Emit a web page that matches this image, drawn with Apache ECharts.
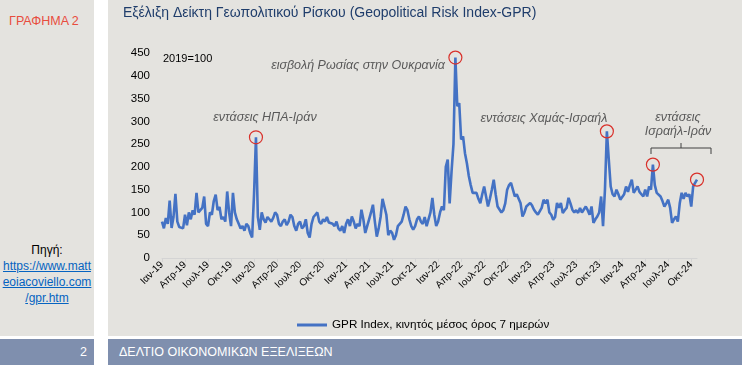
<!DOCTYPE html>
<html>
<head>
<meta charset="utf-8">
<script src="https://cdn.jsdelivr.net/npm/echarts@6/dist/echarts.min.js"></script>
<style>
  html, body { margin:0; padding:0; background:#ffffff; width:742px; height:365px; overflow:hidden; font-family:"Liberation Sans", Arial, sans-serif; }
  .panel { position:absolute; background:#e4e3df; }
  .bar { position:absolute; background:#7f8fae; color:#ffffff; font-size:12.5px; line-height:27px; }
  #chart { position:absolute; left:0; top:0; width:742px; height:365px; }
  .src { position:absolute; left:0; width:94px; text-align:center; font-size:12px; line-height:16px; }
  .src a { color:#0563c1; text-decoration:underline; }
</style>
</head>
<body>
<div class="panel" style="left:0;top:0;width:94px;height:336px;"></div>
<div class="panel" style="left:108px;top:0;width:634px;height:336px;"></div>
<div class="bar" style="left:0;top:339px;width:94px;height:26px;text-align:right;"><span style="padding-right:7px;">2</span></div>
<div class="bar" style="left:108px;top:339px;width:634px;height:26px;"><span style="padding-left:11px;">ΔΕΛΤΙΟ ΟΙΚΟΝΟΜΙΚΩΝ ΕΞΕΛΙΞΕΩΝ</span></div>
<div style="position:absolute;left:9px;top:14px;color:#e84c3d;font-size:12.5px;">ΓΡΑΦΗΜΑ 2</div>
<div class="src" style="top:242px;color:#000;">Πηγή:</div>
<div class="src" style="top:258px;"><a>https://www.matt</a></div>
<div class="src" style="top:274px;"><a>eoiacoviello.com</a></div>
<div class="src" style="top:290px;"><a>/gpr.htm</a></div>
<div id="chart"></div>
<script>
// Month names for tick labels
const monthNames = ['Ιαν','Φεβ','Μαρ','Απρ','Μαϊ','Ιουν','Ιουλ','Αυγ','Σεπ','Οκτ','Νοε','Δεκ'];
const years = ['19','20','21','22','23','24'];
// GPR index, 7-day moving average, ~weekly readings (4 per month)
const gpr2019 = [80,65,88,75, 126,66,90,141, 80,68,72,65, 95,72,100,85, 105,95,143,100, 100,110,135,75,
                 70,100,95,125, 139,105,112,85, 90,80,146,100, 70,143,100,85, 75,65,70,60, 75,70,55,45];
const gpr2020 = [140,265,90,62, 100,85,78,90, 85,80,88,100, 95,75,70,80, 85,72,80,95, 90,70,60,75,
                 80,65,70,85, 55,45,75,90, 95,100,80,75, 85,80,90,78, 82,75,70,80, 65,60,70,55];
const gpr2021 = [75,85,70,91, 80,65,75,70, 106,85,55,70, 85,100,117,80, 47,65,90,130, 132,95,50,60,
                 55,40,50,70, 75,80,95,113, 105,85,70,62, 70,85,91,80, 75,90,70,70, 100,132,95,70];
const gpr2022 = [80,100,113,105, 200,216,120,190, 250,440,333,340, 260,267,230,208, 180,160,143,145, 143,130,120,140,
                 157,135,113,130, 150,172,140,113, 117,100,105,120, 150,160,165,150, 135,140,143,120, 91,100,113,110];
const gpr2023 = [121,115,106,100, 95,91,110,128, 120,128,100,95, 84,90,121,110, 121,99,105,110, 132,120,106,100,
                 105,99,110,100, 99,113,105,95, 113,77,85,91, 100,135,70,150, 278,216,157,140, 135,150,140,128];
const gpr2024 = [128,140,157,145, 160,172,143,150, 157,145,140,135, 150,135,157,150, 205,160,143,140, 135,125,113,120,
                 128,110,77,85, 91,80,120,143, 130,143,135,140, 113,157,165,172];
// Event windows (month index from Jan-19) used to place the red circles on the local peaks
const eventWindows = [[12,13],[37,39],[57,59],[63,65],[68,70]];

const values = [].concat(gpr2019, gpr2020, gpr2021, gpr2022, gpr2023, gpr2024);
const categories = values.map((v, i) => {
  const m = Math.floor(i / 4);
  return monthNames[m % 12] + '-' + years[Math.floor(m / 12)] + '|' + (i % 4);
});
const peaks = eventWindows.map(([a, b]) => {
  let best = a * 4;
  for (let i = a * 4; i < Math.min(b * 4, values.length); i++) if (values[i] > values[best]) best = i;
  return { coord: [categories[best], values[best]] };
});

const FONT = '"Liberation Sans", Arial, sans-serif';
const annot = { fontFamily: FONT, fontSize: 12.5, fontStyle: 'italic', fill: '#595959', textAlign: 'center', textVerticalAlign: 'middle' };

const chart = echarts.init(document.getElementById('chart'), null, { renderer: 'canvas' });
chart.setOption({
  backgroundColor: 'transparent',
  animation: false,
  textStyle: { fontFamily: FONT },
  title: {
    text: 'Εξέλιξη Δείκτη Γεωπολιτικού Ρίσκου (Geopolitical Risk Index-GPR)',
    left: 118, top: 1,
    textStyle: { fontFamily: FONT, fontSize: 14, fontWeight: 'normal', color: '#1f3d6b' }
  },
  legend: {
    left: 292, top: 314,
    icon: 'rect', itemWidth: 30, itemHeight: 3, itemGap: 4,
    textStyle: { fontFamily: FONT, fontSize: 11.7, color: '#000' },
    data: ['GPR Index, κινητός μέσος όρος 7 ημερών']
  },
  grid: { left: 162, right: 45, top: 53, bottom: 107, containLabel: false },
  xAxis: {
    type: 'category',
    data: categories,
    boundaryGap: false,
    axisLine: { lineStyle: { color: '#d4d4d4', width: 1 } },
    axisTick: { show: true, interval: (i) => i % 12 === 0, length: 4, lineStyle: { color: '#d4d4d4' } },
    axisLabel: {
      interval: (i) => i % 12 === 0,
      rotate: 45, margin: 5,
      fontFamily: FONT, fontSize: 10, color: '#000',
      formatter: (v) => v.split('|')[0]
    },
    splitLine: { show: false }
  },
  yAxis: {
    type: 'value', min: 0, max: 450, interval: 50,
    axisLine: { show: false }, axisTick: { show: false },
    splitLine: { show: false },
    axisLabel: { fontFamily: FONT, fontSize: 11.5, color: '#000', margin: 12 }
  },
  series: [{
    name: 'GPR Index, κινητός μέσος όρος 7 ημερών',
    type: 'line',
    data: values,
    showSymbol: false,
    lineStyle: { color: '#4472c4', width: 2.6 },
    itemStyle: { color: '#4472c4' },
    markPoint: {
      symbol: 'circle', symbolSize: 13,
      itemStyle: { color: 'rgba(0,0,0,0)', borderColor: '#d9302a', borderWidth: 1.2 },
      label: { show: false },
      data: peaks
    }
  }],
  graphic: [
    { type: 'text', left: 163, top: 53, style: { text: '2019=100', fontFamily: FONT, fontSize: 11, fill: '#000' } },
    { type: 'text', x: 265, y: 118, style: Object.assign({ text: 'εντάσεις ΗΠΑ-Ιράν' }, annot) },
    { type: 'text', x: 358, y: 66, style: Object.assign({ text: 'εισβολή Ρωσίας στην Ουκρανία' }, annot) },
    { type: 'text', x: 544, y: 119, style: Object.assign({ text: 'εντάσεις Χαμάς-Ισραήλ' }, annot) },
    { type: 'text', x: 678, y: 118, style: Object.assign({ text: 'εντάσεις' }, annot) },
    { type: 'text', x: 678, y: 132, style: Object.assign({ text: 'Ισραήλ-Ιράν' }, annot) },
    { type: 'polyline', shape: { points: [[651,154],[651,148],[711,148],[711,154]] }, style: { stroke: '#404040', lineWidth: 1, fill: null } },
    { type: 'line', shape: { x1: 681, y1: 148, x2: 681, y2: 143 }, style: { stroke: '#404040', lineWidth: 1 } }
  ]
});
</script>
</body>
</html>
